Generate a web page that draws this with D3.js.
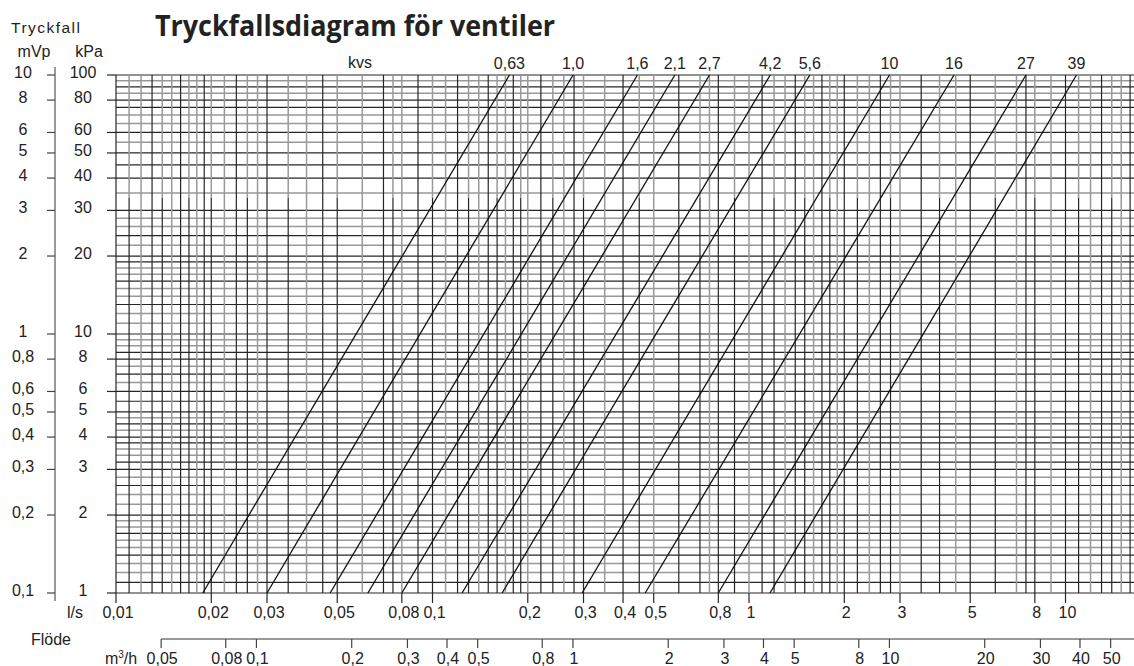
<!DOCTYPE html>
<html>
<head>
<meta charset="utf-8">
<script src="https://cdn.jsdelivr.net/npm/d3@7"></script>
<style>
  html, body { margin: 0; padding: 0; background: #fff; }
  svg { display: block; }
  text { font-family: "Liberation Sans", Arial, sans-serif; fill: #222; }
</style>
</head>
<body>
<svg id="chart" width="1134" height="666"></svg>
<script>
// ---------- data ----------
const kvsLabels     = ["0,63", "1,0", "1,6", "2,1", "2,7", "4,2", "5,6", "10", "16", "27", "39"];
const flowAt100kPa  = [0.175, 0.278, 0.444, 0.583, 0.75, 1.167, 1.556, 2.778, 4.444, 7.5, 10.83]; // l/s
const flowAt1kPa    = [0.0188, 0.030, 0.0475, 0.0625, 0.080, 0.124, 0.166, 0.297, 0.47, 0.80, 1.165]; // l/s

const kPaTicks  = [100, 80, 60, 50, 40, 30, 20, 10, 8, 6, 5, 4, 3, 2, 1];
const mVpTicks  = [10, 8, 6, 5, 4, 3, 2, 1, 0.8, 0.6, 0.5, 0.4, 0.3, 0.2, 0.1];
const lsTicks   = [0.01, 0.02, 0.03, 0.05, 0.08, 0.1, 0.2, 0.3, 0.4, 0.5, 0.8, 1, 2, 3, 5, 8, 10];
const m3hTicks  = [0.05, 0.08, 0.1, 0.2, 0.3, 0.4, 0.5, 0.8, 1, 2, 3, 4, 5, 8, 10, 20, 30, 40, 50];

const gridMantissaX = [1, 1.1, 1.2, 1.3, 1.4, 1.5, 1.6, 1.7, 1.8, 1.9, 2, 2.2, 2.4, 2.6, 2.8, 3, 3.5, 4, 4.5, 5, 6, 7, 7.5, 8, 9];
const gridDecadesX  = [0.01, 0.1, 1, 10];
const gridKPaLower  = [1, 1.1, 1.2, 1.3, 1.4, 1.5, 1.6, 1.7, 1.8, 1.9, 2, 2.2, 2.4, 2.6, 2.8, 3, 3.2, 3.4, 3.6, 3.8, 4, 4.25, 4.5, 4.75, 5, 5.5, 6, 6.5, 7, 7.5, 8, 8.5, 9, 9.5];
const gridKPaUpper  = [10, 11, 12, 13, 14, 15, 16, 17, 18, 19, 20, 22, 24, 26, 28, 30, 35, 40, 45, 50, 55, 60, 65, 70, 75, 80, 85, 90, 95, 100];

const m3hPerLs = 3.6;
const fmt = v => String(v).replace(".", ",");

// ---------- layout ----------
const svg = d3.select("#chart");
const x = d3.scaleLog().domain([0.01, 10]).range([116, 1065.5]);
const y = d3.scaleLog().domain([1, 100]).range([593, 75]);
const xRight = 1134;
const xMax = x.invert(xRight);
const zoneY = y(33.5);
const FS = 16;

const DARK = "#262626", GRAY = "#999";

// ---------- grid ----------
const gx = [];
gridDecadesX.forEach(d => gridMantissaX.forEach(m => { const v = +(d * m).toPrecision(6); if (v <= xMax) gx.push(v); }));
const gy = gridKPaLower.concat(gridKPaUpper);

const grid = svg.append("g");
grid.selectAll("line.h").data(gy).join("line")
  .attr("x1", x(0.01)).attr("x2", xRight)
  .attr("y1", d => y(d)).attr("y2", d => y(d))
  .attr("stroke", (d, i) => (kPaTicks.includes(d) || i % 3 === 1) ? DARK : GRAY)
  .attr("stroke-width", (d, i) => (kPaTicks.includes(d) || i % 3 === 1) ? 1.2 : 1.5);
grid.selectAll("line.vu").data(gx).join("line")
  .attr("x1", d => x(d)).attr("x2", d => x(d))
  .attr("y1", y(100)).attr("y2", zoneY)
  .attr("stroke", (d, i) => i % 3 === 0 ? DARK : GRAY)
  .attr("stroke-width", (d, i) => i % 3 === 0 ? 1.2 : 1.5);
grid.selectAll("line.vl").data(gx).join("line")
  .attr("x1", d => x(d)).attr("x2", d => x(d))
  .attr("y1", zoneY).attr("y2", y(1))
  .attr("stroke", (d, i) => i % 3 !== 2 ? DARK : GRAY)
  .attr("stroke-width", (d, i) => i % 3 !== 2 ? 1.2 : 1.5);

// ---------- kvs lines ----------
const kvs = kvsLabels.map((l, i) => ({ label: l, q100: flowAt100kPa[i], q1: flowAt1kPa[i] }));
svg.append("g").selectAll("line").data(kvs).join("line")
  .attr("x1", d => x(d.q1)).attr("y1", y(1))
  .attr("x2", d => x(d.q100)).attr("y2", y(100))
  .attr("stroke", "#111").attr("stroke-width", 1.3);
svg.append("g").selectAll("text").data(kvs).join("text")
  .attr("x", d => x(d.q100)).attr("y", y(100) - 6)
  .attr("text-anchor", "middle").attr("font-size", FS)
  .text(d => d.label);
svg.append("text").attr("x", 360).attr("y", y(100) - 7).attr("text-anchor", "middle")
  .attr("font-size", FS).text("kvs");

// ---------- kPa axis ----------
const kpa = svg.append("g");
kpa.selectAll("line").data(kPaTicks).join("line")
  .attr("x1", x(0.01) - 9).attr("x2", x(0.01))
  .attr("y1", d => y(d)).attr("y2", d => y(d))
  .attr("stroke", DARK).attr("stroke-width", 1.2);
kpa.selectAll("text").data(kPaTicks).join("text")
  .attr("x", 83).attr("y", d => y(d) - 3).attr("dy", "0.36em")
  .attr("text-anchor", "middle").attr("font-size", FS)
  .text(d => fmt(d));

// ---------- mVp axis ----------
const mvp = svg.append("g");
mvp.append("line").attr("x1", 55).attr("x2", 55).attr("y1", y(100) - 8).attr("y2", y(1) + 8)
  .attr("stroke", "#777").attr("stroke-width", 1.5);
mvp.selectAll("line.t").data(mVpTicks).join("line")
  .attr("x1", 47).attr("x2", 55)
  .attr("y1", d => y(d * 10)).attr("y2", d => y(d * 10))
  .attr("stroke", "#444").attr("stroke-width", 1.2);
mvp.selectAll("text").data(mVpTicks).join("text")
  .attr("x", 23).attr("y", d => y(d * 10) - 3).attr("dy", "0.36em")
  .attr("text-anchor", "middle").attr("font-size", FS)
  .text(d => fmt(d));

svg.append("text").attr("x", 11).attr("y", 33).attr("font-size", 15.5).attr("textLength", 69).text("Tryckfall");
svg.append("text").attr("x", 34).attr("y", 57).attr("text-anchor", "middle").attr("font-size", FS).text("mVp");
svg.append("text").attr("x", 89).attr("y", 57).attr("text-anchor", "middle").attr("font-size", FS).text("kPa");

// ---------- l/s axis ----------
const ls = svg.append("g");
ls.selectAll("line").data(lsTicks).join("line")
  .attr("x1", d => x(d)).attr("x2", d => x(d))
  .attr("y1", y(1)).attr("y2", y(1) + 10)
  .attr("stroke", DARK).attr("stroke-width", 1.2);
ls.selectAll("text").data(lsTicks).join("text")
  .attr("x", d => x(d) + 2).attr("y", y(1) + 25)
  .attr("text-anchor", "middle").attr("font-size", FS)
  .text(d => fmt(d));
svg.append("text").attr("x", 75).attr("y", y(1) + 25).attr("text-anchor", "middle").attr("font-size", FS).text("l/s");

// ---------- m3/h axis ----------
const m3Y = 639;
const m3 = svg.append("g");
m3.append("line").attr("x1", x(m3hTicks[0] / m3hPerLs)).attr("x2", xRight)
  .attr("y1", m3Y).attr("y2", m3Y).attr("stroke", "#777").attr("stroke-width", 1.5);
m3.selectAll("line.t").data(m3hTicks).join("line")
  .attr("x1", d => x(d / m3hPerLs)).attr("x2", d => x(d / m3hPerLs))
  .attr("y1", m3Y).attr("y2", m3Y + 9)
  .attr("stroke", "#444").attr("stroke-width", 1.2);
m3.selectAll("text").data(m3hTicks).join("text")
  .attr("x", d => x(d / m3hPerLs) + 1).attr("y", m3Y + 25)
  .attr("text-anchor", "middle").attr("font-size", FS)
  .text(d => fmt(d));
const m3lab = svg.append("text").attr("x", 121).attr("y", m3Y + 25).attr("text-anchor", "middle").attr("font-size", FS);
m3lab.append("tspan").text("m");
m3lab.append("tspan").attr("font-size", 10).attr("dy", -6).text("3");
m3lab.append("tspan").attr("dy", 6).text("/h");
svg.append("text").attr("x", 51).attr("y", m3Y + 6).attr("text-anchor", "middle").attr("font-size", FS).text("Flöde");

// ---------- title ----------
svg.append("text").attr("x", 155).attr("y", 36)
  .style("font-family", "'Open Sans', 'Noto Sans', sans-serif")
  .attr("font-weight", 700).attr("font-size", 28)
  .attr("textLength", 400).attr("lengthAdjust", "spacingAndGlyphs")
  .text("Tryckfallsdiagram för ventiler");
</script>
</body>
</html>
